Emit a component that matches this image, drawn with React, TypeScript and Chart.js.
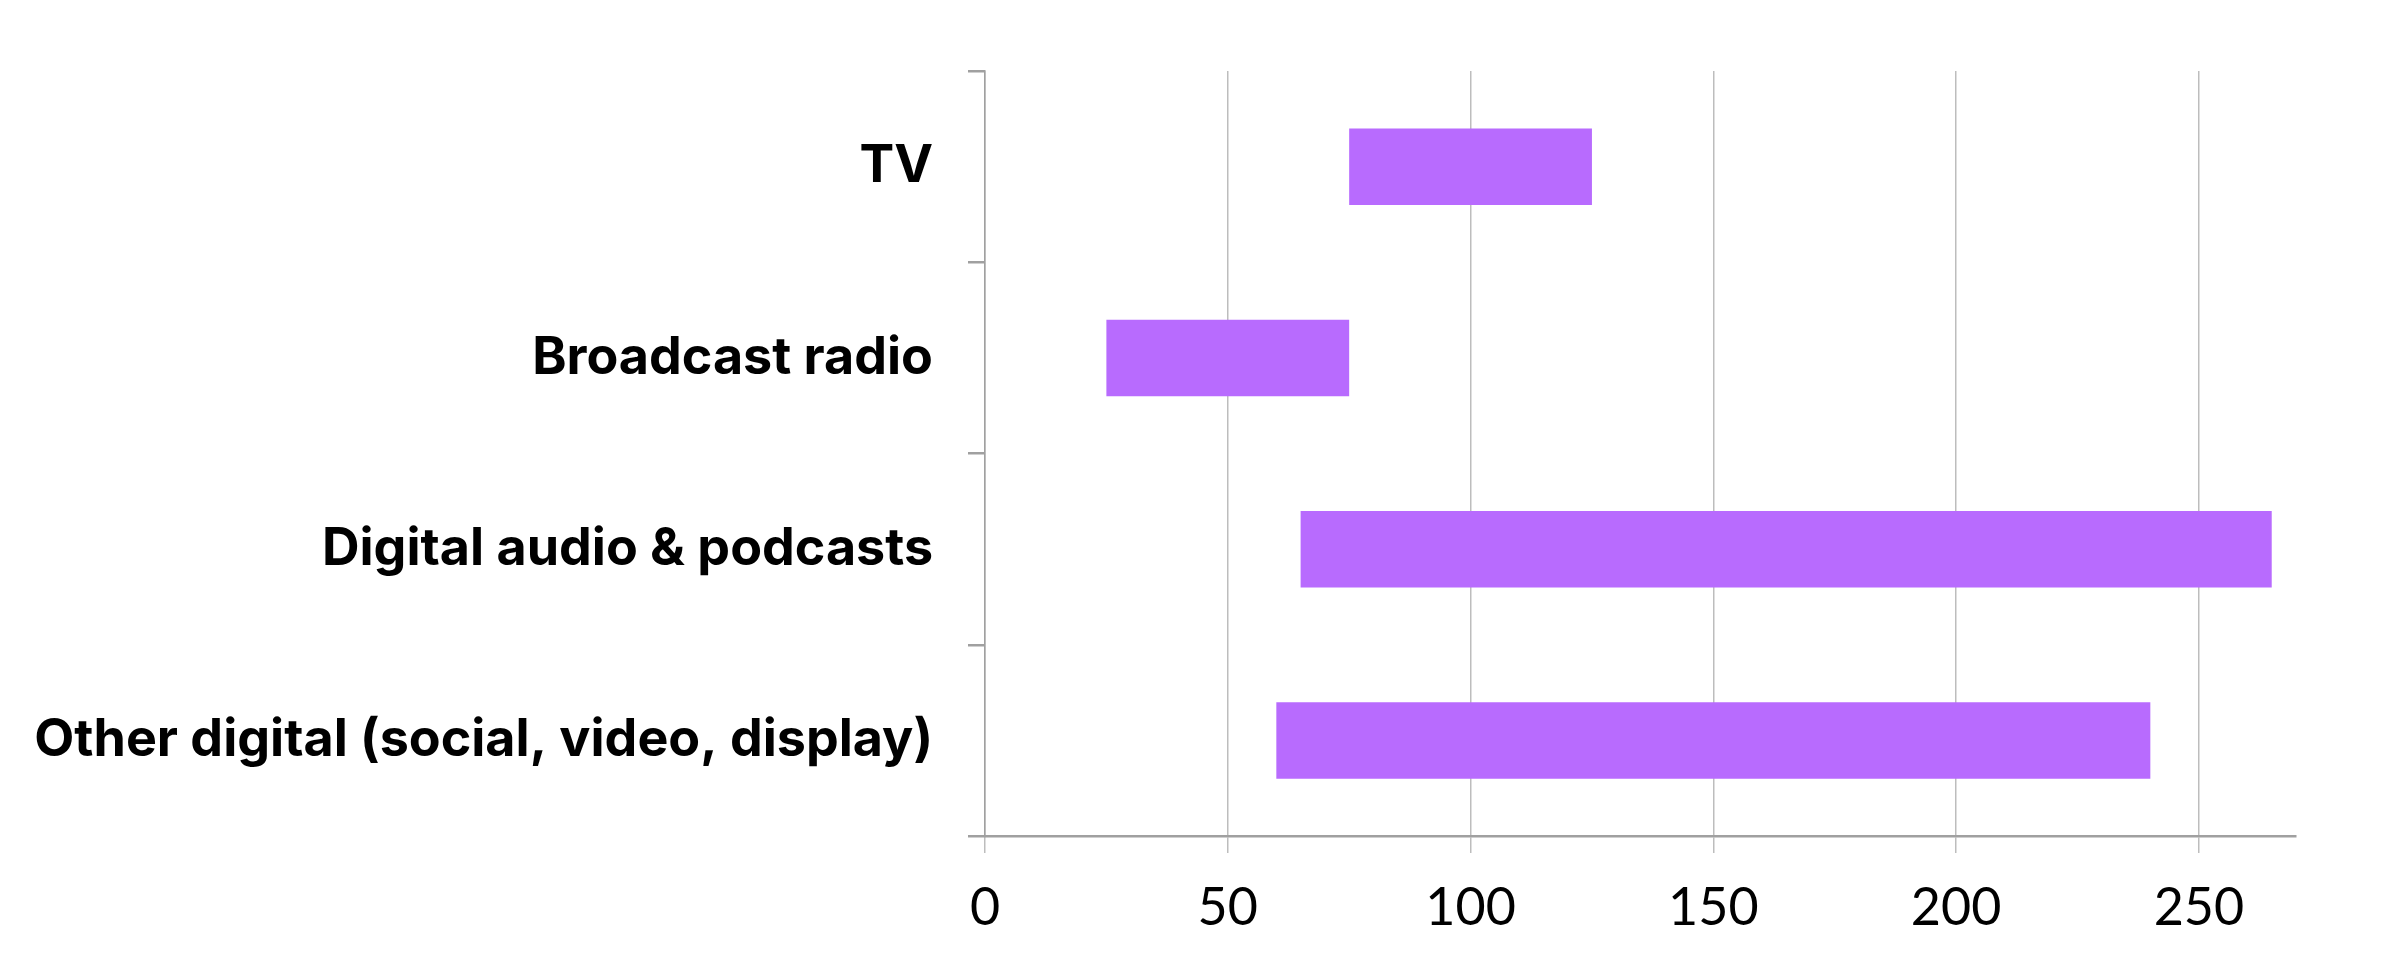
import React, { useEffect, useRef } from "react";
import { Chart, registerables } from "chart.js";

Chart.register(...registerables);

const categories = [
  "TV",
  "Broadcast radio",
  "Digital audio & podcasts",
  "Other digital (social, video, display)",
];
const rangeStart = [75, 25, 65, 60];
const rangeEnd = [125, 75, 265, 240];
const xTickValues = [0, 50, 100, 150, 200, 250];

export default function App() {
  const ref = useRef<HTMLCanvasElement | null>(null);
  useEffect(() => {
    if (!ref.current) return;
    const chart = new Chart(ref.current, {
      type: "bar",
      data: {
        labels: categories,
        datasets: [
          {
            data: categories.map((_, i) => [rangeStart[i], rangeEnd[i]]) as any,
            backgroundColor: "#b86bfe",
            borderWidth: 0,
            categoryPercentage: 0.5,
            barPercentage: 0.8,
          },
        ],
      },
      options: {
        indexAxis: "y",
        animation: false,
        responsive: false,
        devicePixelRatio: 1,
        layout: { padding: { top: 71, right: 105, left: 0, bottom: 0 } },
        plugins: { legend: { display: false }, tooltip: { enabled: false } },
        scales: {
          x: {
            type: "linear",
            min: 0,
            max: 270,
            ticks: {
              stepSize: 50,
              color: "#000",
              padding: 24,
              font: { family: "Lato", size: 52, weight: "normal" },
            },
            afterBuildTicks: (scale: any) => {
              scale.ticks = xTickValues.map((v) => ({ value: v }));
            },
            afterFit: (scale: any) => {
              scale.height = 137;
            },
            grid: {
              color: "#bdbdbd",
              lineWidth: 1.5,
              tickLength: 17,
            },
            border: { color: "#a0a0a0", width: 2.5 },
          },
          y: {
            ticks: {
              color: "#000",
              padding: 35,
              font: { family: "Inter", size: 52, weight: "bold" },
            },
            afterFit: (scale: any) => {
              scale.width = 985;
            },
            grid: {
              drawOnChartArea: false,
              color: "#a0a0a0",
              lineWidth: 2.5,
              tickLength: 17,
            },
            border: { color: "#a0a0a0", width: 1.5 },
          },
        },
      },
    });
    return () => chart.destroy();
  }, []);
  return (
    <div style={{ position: "fixed", left: 0, top: 0, width: 2401, height: 973, background: "#fff" }}>
      <canvas ref={ref} width={2401} height={973} style={{ display: "block" }} />
    </div>
  );
}
